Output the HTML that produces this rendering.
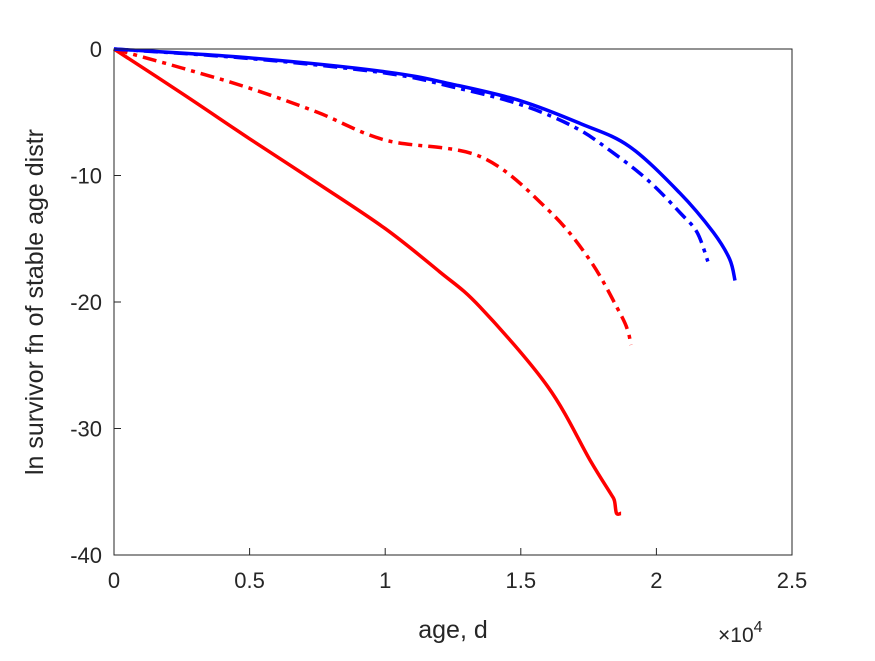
<!DOCTYPE html>
<html><head><meta charset="utf-8"><style>
body{margin:0;background:#fff;width:875px;height:656px;overflow:hidden}
svg{font-family:"Liberation Sans",sans-serif}
</style></head><body>
<svg id="chart" width="875" height="656" xmlns="http://www.w3.org/2000/svg">
<rect x="0" y="0" width="875" height="656" fill="#fff"/>
<g id="plot"></g>
<rect x="114" y="49" width="678" height="506" fill="none" stroke="#262626" stroke-width="1"/>
<g id="axes"></g>
<text x="453" y="638" font-size="25" text-anchor="middle" fill="#262626">age, d</text>
<text x="718" y="642" font-size="21" fill="#262626">×10<tspan font-size="16" dy="-10">4</tspan></text>
<text transform="translate(43,302) rotate(-90)" font-size="25" text-anchor="middle" fill="#262626">ln survivor fn of stable age distr</text>
</svg>
<script>
const xTicks=[0,0.5,1,1.5,2,2.5];
const xTickLabels=["0","0.5","1","1.5","2","2.5"];
const yTicks=[0,-10,-20,-30,-40];
const yTickLabels=["0","-10","-20","-30","-40"];
const redSolidX=[0,0.25,0.5,0.75,1,1.2,1.35,1.6,1.755,1.83,1.845,1.853,1.87];
const redSolidY=[0,-3.5,-7.1,-10.6,-14.2,-17.6,-20.4,-26.7,-32.5,-35.1,-35.7,-36.7,-36.7];
const redDashX=[0,0.25,0.5,0.75,1,1.35,1.6,1.755,1.866,1.895,1.906];
const redDashY=[0,-1.5,-3.1,-5,-7.2,-8.5,-12.7,-16.7,-20.9,-22.3,-23.4];
const blueSolidX=[0,0.5,1,1.25,1.5,1.72,1.9,2.087,2.21,2.27,2.29];
const blueSolidY=[0,-0.7,-1.8,-2.8,-4.1,-5.9,-7.7,-11.4,-14.5,-16.6,-18.3];
const blueDashX=[0,0.5,1,1.25,1.5,1.7,1.84,1.97,2.09,2.15,2.19];
const blueDashY=[0,-0.75,-1.9,-3,-4.4,-6.2,-8.2,-10.4,-13,-14.5,-16.8];
const NS="http://www.w3.org/2000/svg";
const X=v=>114+v*271.2, Y=v=>49-v*12.65;
const plot=document.getElementById('plot'), axes=document.getElementById('axes');
function smooth(pts){
  let d='M'+pts[0][0].toFixed(1)+' '+pts[0][1].toFixed(1);
  for(let i=0;i<pts.length-1;i++){
    const p0=pts[i-1]||pts[i],p1=pts[i],p2=pts[i+1],p3=pts[i+2]||p2;
    const c1=[p1[0]+(p2[0]-p0[0])/6,p1[1]+(p2[1]-p0[1])/6];
    const c2=[p2[0]-(p3[0]-p1[0])/6,p2[1]-(p3[1]-p1[1])/6];
    d+='C'+c1.map(v=>v.toFixed(1)).join(' ')+' '+c2.map(v=>v.toFixed(1)).join(' ')+' '+p2[0].toFixed(1)+' '+p2[1].toFixed(1);
  }
  return d;
}
function line(xs,ys,color,dash,name){
  const p=document.createElementNS(NS,'path');
  
  
  p.setAttribute('d',smooth(xs.map((x,i)=>[X(x),Y(ys[i])])));
  p.setAttribute('fill','none');p.setAttribute('stroke',color);p.setAttribute('stroke-width','3.5');
  p.setAttribute('stroke-linejoin','round');
  if(dash)p.setAttribute('stroke-dasharray','14 6 4 6');
  plot.appendChild(p);
}
line(redSolidX,redSolidY,'#ff0000',false,'red-solid-line');
line(redDashX,redDashY,'#ff0000',true,'red-dashdot-line');
line(blueDashX,blueDashY,'#0000ff',true,'blue-dashdot-line');
line(blueSolidX,blueSolidY,'#0000ff',false,'blue-solid-line');
xTicks.forEach((v,i)=>{
  const t=document.createElementNS(NS,'line');
  
  
  t.setAttribute('x1',X(v));t.setAttribute('x2',X(v));t.setAttribute('y1',555);t.setAttribute('y2',548);t.setAttribute('stroke','#262626');
  axes.appendChild(t);
  const s=document.createElementNS(NS,'text');
  
  
  s.setAttribute('x',X(v));s.setAttribute('y',588);s.setAttribute('font-size','22');s.setAttribute('text-anchor','middle');s.setAttribute('fill','#262626');
  s.textContent=xTickLabels[i];axes.appendChild(s);
});
yTicks.forEach((v,i)=>{
  const t=document.createElementNS(NS,'line');
  
  
  t.setAttribute('x1',114);t.setAttribute('x2',121);t.setAttribute('y1',Y(v));t.setAttribute('y2',Y(v));t.setAttribute('stroke','#262626');
  axes.appendChild(t);
  const s=document.createElementNS(NS,'text');
  
  
  s.setAttribute('x',102);s.setAttribute('y',Y(v)+8);s.setAttribute('font-size','22');s.setAttribute('text-anchor','end');s.setAttribute('fill','#262626');
  s.textContent=yTickLabels[i];axes.appendChild(s);
});
</script>
</body></html>
